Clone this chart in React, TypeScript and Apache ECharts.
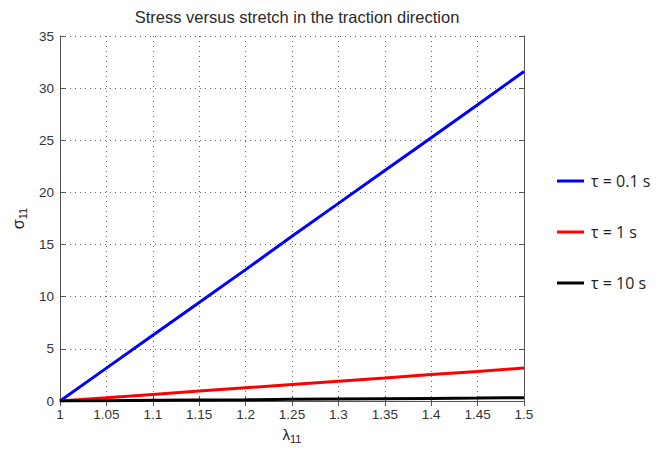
import React, { useEffect, useRef } from "react";
import * as echarts from "echarts";

// stretch values along the traction direction
const stretch = [1, 1.05, 1.1, 1.15, 1.2, 1.25, 1.3, 1.35, 1.4, 1.45, 1.5];
// stress for each relaxation time
const stressTau01 = [0, 3.15, 6.3, 9.45, 12.6, 15.8, 18.95, 22.1, 25.25, 28.4, 31.6];
const stressTau1 = [0, 0.31, 0.63, 0.95, 1.26, 1.58, 1.9, 2.21, 2.53, 2.84, 3.16];
const stressTau10 = [0, 0.03, 0.06, 0.09, 0.12, 0.16, 0.19, 0.22, 0.25, 0.28, 0.32];
const seriesNames = ["τ = 0.1 s", "τ = 1 s", "τ = 10 s"];
const yTicks = [0, 5, 10, 15, 20, 25, 30, 35];

const axisFont = "'Liberation Sans', Arial, sans-serif";

export default function App() {
  const ref = useRef<HTMLDivElement>(null);
  useEffect(() => {
    if (!ref.current) return;
    const chart = echarts.init(ref.current, null, { renderer: "svg" });
    const pair = (ys: number[]) => stretch.map((x, i) => [x, ys[i]]);
    const lineColor = "#555";
    const tickInside = { show: true, inside: true, length: 5, lineStyle: { color: lineColor } };
    const split = { show: true, lineStyle: { color: "#666", type: [1, 4] as any, width: 1 } };
    chart.setOption({
      animation: false,
      backgroundColor: "#fff",
      title: {
        text: "Stress versus stretch in the traction direction",
        left: 292,
        textAlign: "center",
        top: 3,
        textStyle: { fontFamily: axisFont, fontSize: 16.5, fontWeight: "normal", color: "#2a2a2a" },
      },
      grid: { left: 60, right: 147, top: 36, bottom: 51, containLabel: false },
      legend: {
        orient: "vertical",
        left: 552,
        top: 168,
        itemGap: 35,
        itemWidth: 27,
        itemHeight: 3,
        icon: "rect",
        data: seriesNames,
        textStyle: { fontFamily: "'Open Sans', sans-serif", fontSize: 16, color: "#222", padding: [0, 0, 0, 2] },
      },
      xAxis: [
        {
          type: "value",
          min: 1,
          max: 1.5,
          interval: 0.05,
          name: "{l|λ}{s|11}",
          nameLocation: "middle",
          nameGap: 24,
          nameTextStyle: {
            rich: {
              l: { fontFamily: axisFont, fontSize: 15, color: "#222" },
              s: { fontFamily: axisFont, fontSize: 11, color: "#222", verticalAlign: "bottom", padding: [8, 0, 0, 0] },
            },
          },
          axisLine: { show: true, lineStyle: { color: lineColor } },
          axisTick: tickInside,
          axisLabel: {
            fontFamily: axisFont,
            fontSize: 13.5,
            color: "#333",
            margin: 6,
            formatter: (v: number) => String(+v.toFixed(2)),
          },
          splitLine: split,
        },
        {
          type: "value",
          position: "top",
          min: 1,
          max: 1.5,
          interval: 0.05,
          axisLine: { show: true, lineStyle: { color: lineColor } },
          axisTick: tickInside,
          axisLabel: { show: false },
          splitLine: { show: false },
        },
      ],
      yAxis: [
        {
          type: "value",
          min: yTicks[0],
          max: yTicks[yTicks.length - 1],
          interval: 5,
          name: "{l|σ}{s|11}",
          nameLocation: "middle",
          nameGap: 27,
          nameRotate: 90,
          nameTextStyle: {
            rich: {
              l: { fontFamily: axisFont, fontSize: 16, color: "#222" },
              s: { fontFamily: axisFont, fontSize: 11, color: "#222", padding: [8, 0, 0, 0] },
            },
          },
          axisLine: { show: true, lineStyle: { color: lineColor } },
          axisTick: tickInside,
          axisLabel: { fontFamily: axisFont, fontSize: 13.5, color: "#333", margin: 6 },
          splitLine: split,
        },
        {
          type: "value",
          position: "right",
          min: yTicks[0],
          max: yTicks[yTicks.length - 1],
          interval: 5,
          axisLine: { show: true, lineStyle: { color: lineColor } },
          axisTick: tickInside,
          axisLabel: { show: false },
          splitLine: { show: false },
        },
      ],
      series: [
        { name: seriesNames[0], data: pair(stressTau01), color: "#0000ff" },
        { name: seriesNames[1], data: pair(stressTau1), color: "#ff0000" },
        { name: seriesNames[2], data: pair(stressTau10), color: "#000000" },
      ].map((s) => ({
        type: "line",
        name: s.name,
        data: s.data,
        showSymbol: false,
        itemStyle: { color: s.color },
        lineStyle: { color: s.color, width: 3 },
        z: 3,
      })),
    });
    return () => chart.dispose();
  }, []);
  return (
    <div
      ref={ref}
      style={{ position: "fixed", left: 0, top: 0, width: 671, height: 452, background: "#fff" }}
    />
  );
}
